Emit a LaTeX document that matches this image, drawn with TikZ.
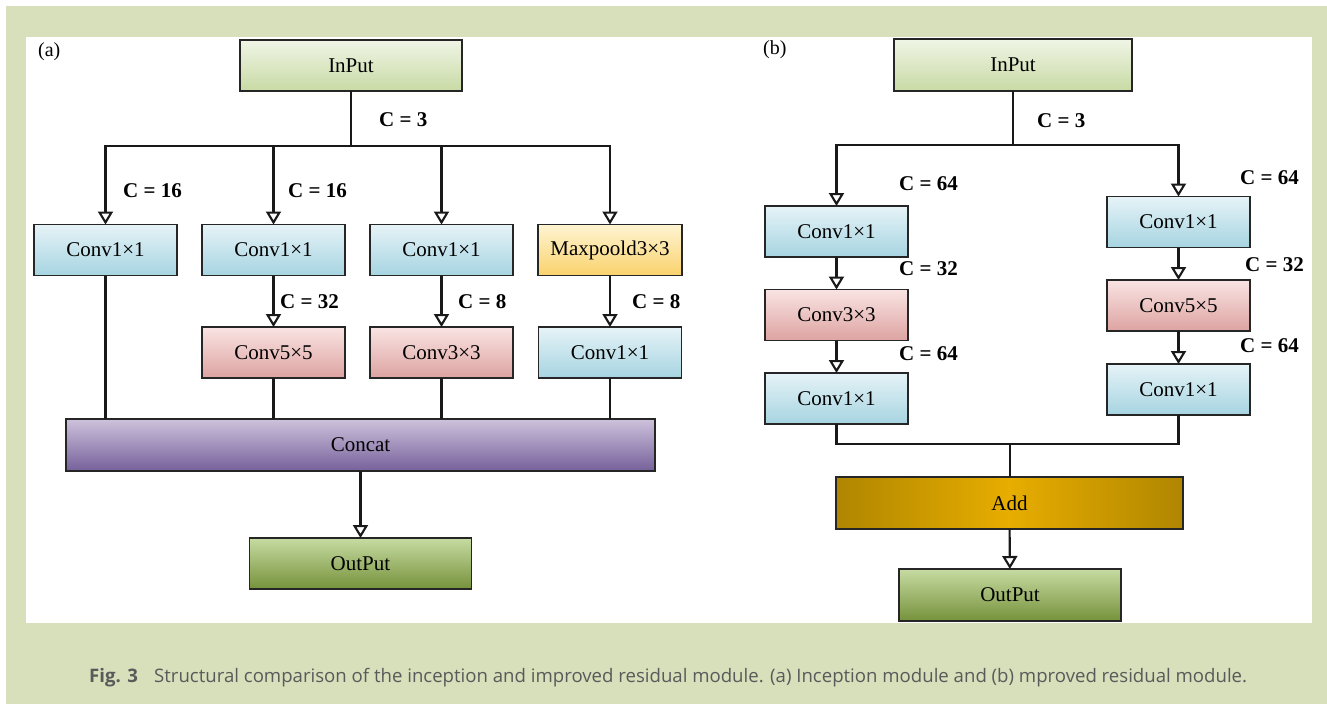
\documentclass[tikz,border=0pt]{standalone}
\usepackage{fontspec}
\setmainfont{Liberation Serif}
\newfontfamily\capfont{Open Sans}
\usetikzlibrary{arrows.meta}

\definecolor{pagegreen}{HTML}{D7DFBB}
\definecolor{capgray}{HTML}{5A5A5A}
\definecolor{inTop}{HTML}{F0F5E6}
\definecolor{inBot}{HTML}{C8DAA4}
\definecolor{blTop}{HTML}{E6F3F7}
\definecolor{blBot}{HTML}{A6D4E1}
\definecolor{rdTop}{HTML}{F9E4E3}
\definecolor{rdBot}{HTML}{DDA3A1}
\definecolor{ylTop}{HTML}{FFF4D2}
\definecolor{ylBot}{HTML}{F9D26C}
\definecolor{ccTop}{HTML}{CDC2DC}
\definecolor{ccBot}{HTML}{76609A}
\definecolor{otTop}{HTML}{C6DBA2}
\definecolor{otBot}{HTML}{76923B}
\definecolor{adEdge}{HTML}{B08600}
\definecolor{adMid}{HTML}{E7AD00}

\tikzset{
  box/.style={draw=black!85, line width=1.4pt, rectangle, inner sep=0pt, outer sep=0pt,
    minimum height=51pt, font=\fontsize{21}{24}\selectfont},
  iobox/.style={box, minimum width=222pt, top color=inTop, bottom color=inBot},
  outbox/.style={box, minimum width=222pt, top color=otTop, bottom color=otBot},
  bluebox/.style={box, minimum width=143pt, top color=blTop, bottom color=blBot},
  redbox/.style={box, minimum width=143pt, top color=rdTop, bottom color=rdBot},
  yelbox/.style={box, minimum width=144pt, top color=ylTop, bottom color=ylBot},
  catbox/.style={box, minimum width=589pt, minimum height=52pt, top color=ccTop, bottom color=ccBot},
  addbox/.style={box, minimum width=347pt, minimum height=52pt, left color=adEdge, right color=adEdge, middle color=adMid},
  link/.style={line width=2.1pt, black!90},
  arr/.style={link, -{Triangle[open, length=13pt, width=15pt]}},
  chan/.style={anchor=west, inner sep=0pt, font=\fontsize{21}{24}\selectfont\bfseries},
  panel/.style={anchor=west, inner sep=0pt, font=\fontsize{20}{24}\selectfont},
}

\begin{document}
\begin{tikzpicture}[x=1pt, y=-1pt]
  % page and white drawing area
  \useasboundingbox (0,0) rectangle (1327,707);
  \fill[pagegreen] (6,6) rectangle (1327,704);
  \fill[white] (26,37) rectangle (1312,623);

  % ---------- (a) inception module ----------
  \node[panel] (la) at (38,52) {(a)};
  \node[iobox] (inA) at (351,65.5) {InPut};
  \coordinate (ja) at (351,146);

  \node[bluebox] (a1) at (105.5,250) {Conv1×1};
  \node[bluebox] (a2) at (273.5,250) {Conv1×1};
  \node[bluebox] (a3) at (441.5,250) {Conv1×1};
  \node[yelbox]  (a4) at (610,250)   {Maxpoold3×3};

  \node[redbox]  (b2) at (273.5,352.5) {Conv5×5};
  \node[redbox]  (b3) at (441.5,352.5) {Conv3×3};
  \node[bluebox] (b4) at (610,352.5)   {Conv1×1};

  \node[catbox] (cat) at (360.5,445) {Concat};
  \node[outbox] (outA) at (360.5,563.5) {OutPut};

  \draw[link] (inA) -- (ja);
  \draw[arr] (ja) -| (a1);
  \draw[arr] (ja) -| (a2);
  \draw[arr] (ja) -| (a3);
  \draw[arr] (ja) -| (a4);
  \draw[arr] (a2) -- (b2);
  \draw[arr] (a3) -- (b3);
  \draw[arr] (a4) -- (b4);
  \draw[link] (a1.south) -- (a1.south |- cat.north);
  \draw[link] (b2.south) -- (b2.south |- cat.north);
  \draw[link] (b3.south) -- (b3.south |- cat.north);
  \draw[link] (b4.south) -- (b4.south |- cat.north);
  \draw[arr] (cat) -- (outA);

  \node[chan] (ca0) at (379,120) {C = 3};
  \node[chan] (ca1) at (123,191) {C = 16};
  \node[chan] (ca2) at (288,191) {C = 16};
  \node[chan] (ca3) at (280,302) {C = 32};
  \node[chan] (ca4) at (458,302) {C = 8};
  \node[chan] (ca5) at (632,302) {C = 8};

  % ---------- (b) improved residual module ----------
  \node[panel] (lb) at (763,50) {(b)};
  \node[iobox, minimum width=238pt, minimum height=52pt] (inB) at (1013,65) {InPut};
  \coordinate (jb) at (1013,145);

  \node[bluebox] (l1) at (836.5,231.5) {Conv1×1};
  \node[redbox]  (l2) at (836.5,315)   {Conv3×3};
  \node[bluebox] (l3) at (836.5,398.5) {Conv1×1};

  \node[bluebox] (r1) at (1178.5,222)   {Conv1×1};
  \node[redbox]  (r2) at (1178.5,305.5) {Conv5×5};
  \node[bluebox] (r3) at (1178.5,389.5) {Conv1×1};

  \coordinate (mb) at (1010,444);
  \node[addbox] (add) at (1009.5,503) {Add};
  \node[outbox, minimum height=52pt] (outB) at (1010,595) {OutPut};

  \draw[link] (inB) -- (jb);
  \draw[arr] (jb) -| (l1);
  \draw[arr] (jb) -| (r1);
  \draw[arr] (l1) -- (l2);
  \draw[arr] (l2) -- (l3);
  \draw[arr] (r1) -- (r2);
  \draw[arr] (r2) -- (r3);
  \draw[link] (l3.south) |- (mb);
  \draw[link] (r3.south) |- (mb);
  \draw[link] (mb) -- (mb |- add.north);
  \draw[arr] (add) -- (outB);

  \node[chan] (cb0) at (1037,121) {C = 3};
  \node[chan] (cb1) at (899,184) {C = 64};
  \node[chan] (cb2) at (899,269) {C = 32};
  \node[chan] (cb3) at (899,354) {C = 64};
  \node[chan] (cb4) at (1240,178) {C = 64};
  \node[chan] (cb5) at (1245,265) {C = 32};
  \node[chan] (cb6) at (1240,346) {C = 64};

  % ---------- caption ----------
  \node[anchor=base west, inner sep=0pt, text=capgray, font=\capfont\fontsize{18.6}{22}\selectfont\bfseries] (fig) at (89,682) {Fig. 3};
  \node[anchor=base west, inner sep=0pt, text=capgray, font=\capfont\fontsize{18.6}{22}\selectfont] (cap) at (154,682)
    {Structural comparison of the inception and improved residual module. (a) Inception module and (b) mproved residual module.};
\end{tikzpicture}
\end{document}
